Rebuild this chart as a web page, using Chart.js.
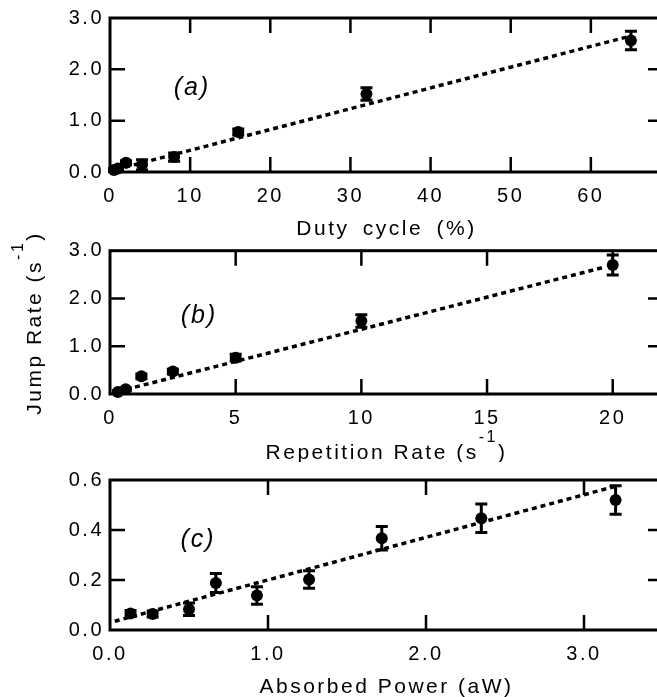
<!DOCTYPE html>
<html>
<head>
<meta charset="utf-8">
<script src="https://cdn.jsdelivr.net/npm/chart.js@4.4.1/dist/chart.umd.min.js"></script>
<style>
  html, body { margin: 0; padding: 0; background: #fff; }
  #wrap { position: relative; width: 657px; height: 697px; overflow: hidden; background: #fff; }
  #wrap canvas { position: absolute; left: 0; }
</style>
</head>
<body>
<div id="wrap">
  <canvas id="chartA" width="670" height="240" style="top:0;width:670px;height:240px"></canvas>
  <canvas id="chartB" width="670" height="230" style="top:232px;width:670px;height:230px"></canvas>
  <canvas id="chartC" width="670" height="235" style="top:462px;width:670px;height:235px"></canvas>
</div>
<script>
// (a) jump rate vs duty cycle
const dutyCycle = [0.5, 1, 2, 4, 8, 16, 32, 65];
const jumpRateA = [0.04, 0.07, 0.18, 0.14, 0.29, 0.78, 1.52, 2.56];
const errA = [0.03, 0.03, 0.04, 0.1, 0.08, 0.06, 0.12, 0.18];
const fitAx = [0.8, 64.5];
const fitAy = [0.05, 2.63];
const xTicksA = [0, 10, 20, 30, 40, 50, 60];
const yTicksA = [0, 1, 2, 3];

// (b) jump rate vs repetition rate
const repRate = [0.3125, 0.625, 1.25, 2.5, 5, 10, 20];
const jumpRateB = [0.04, 0.1, 0.37, 0.47, 0.76, 1.53, 2.7];
const errB = [0.03, 0.03, 0.05, 0.05, 0.07, 0.13, 0.21];
const fitBx = [0.3, 19.7];
const fitBy = [0.05, 2.66];
const xTicksB = [0, 5, 10, 15, 20];
const yTicksB = [0, 1, 2, 3];

// (c) jump rate vs absorbed power
const power = [0.13, 0.27, 0.5, 0.67, 0.93, 1.26, 1.72, 2.35, 3.2];
const jumpRateC = [0.066, 0.064, 0.083, 0.188, 0.138, 0.202, 0.367, 0.447, 0.52];
const errC = [0.012, 0.012, 0.025, 0.038, 0.035, 0.035, 0.047, 0.057, 0.057];
const fitCx = [0.03, 3.2];
const fitCy = [0.035, 0.575];
const xTicksC = [0, 1, 2, 3];
const yTicksC = [0, 0.2, 0.4, 0.6];

const FONT = '"Liberation Sans", Arial, Helvetica, sans-serif';
Chart.defaults.font.family = FONT;
Chart.defaults.color = '#000';

// draw text made of parts, some raised (superscript), centred on cx,cy
function drawRich(ctx, parts, cx, cy, rot) {
  ctx.save();
  ctx.translate(cx, cy);
  if (rot) ctx.rotate(rot);
  ctx.textBaseline = 'alphabetic';
  ctx.textAlign = 'left';
  let total = 0;
  parts.forEach(p => { ctx.font = p.font; total += ctx.measureText(p.text).width; });
  let x = -total / 2;
  parts.forEach(p => {
    ctx.font = p.font;
    ctx.fillText(p.text, x, 7 - (p.raise || 0));
    x += ctx.measureText(p.text).width;
  });
  ctx.restore();
}

const panelPlugin = {
  id: 'panel',
  beforeDraw(chart) {
    chart.ctx.letterSpacing = '2.5px';
  },
  beforeDatasetsDraw(chart) {
    // error bars under the markers
    const { ctx, scales: { x, y } } = chart;
    chart.data.datasets.forEach(ds => {
      if (!ds.errors) return;
      ctx.save();
      ctx.strokeStyle = '#000';
      ctx.lineWidth = 3;
      ds.data.forEach((p, i) => {
        const px = x.getPixelForValue(p.x);
        const top = y.getPixelForValue(p.y + ds.errors[i]);
        const bot = y.getPixelForValue(p.y - ds.errors[i]);
        ctx.beginPath();
        ctx.moveTo(px, top); ctx.lineTo(px, bot);
        ctx.moveTo(px - 6, top); ctx.lineTo(px + 6, top);
        ctx.moveTo(px - 6, bot); ctx.lineTo(px + 6, bot);
        ctx.stroke();
      });
      ctx.restore();
    });
  },
  afterDraw(chart, args, opts) {
    const { ctx, chartArea: a, scales: { x, y } } = chart;
    ctx.save();
    ctx.strokeStyle = '#000';
    ctx.lineWidth = 3;
    ctx.strokeRect(a.left, a.top, a.right - a.left, a.bottom - a.top);

    // inward tick marks on all four sides
    ctx.lineWidth = 2.5;
    ctx.beginPath();
    x.ticks.forEach(t => {
      if (t.value <= x.min || t.value >= x.max) return;
      const px = x.getPixelForValue(t.value);
      ctx.moveTo(px, a.top); ctx.lineTo(px, a.top + 15);
      ctx.moveTo(px, a.bottom); ctx.lineTo(px, a.bottom - 15);
    });
    y.ticks.forEach(t => {
      if (t.value <= y.min || t.value >= y.max) return;
      const py = y.getPixelForValue(t.value);
      ctx.moveTo(a.left, py); ctx.lineTo(a.left + 15, py);
      ctx.moveTo(a.right, py); ctx.lineTo(a.right - 15, py);
    });
    ctx.stroke();

    ctx.fillStyle = '#000';
    ctx.letterSpacing = '2px';
    ctx.textAlign = 'center';
    ctx.textBaseline = 'middle';
    ctx.font = 'italic 25px ' + FONT;
    ctx.fillText(opts.tag, a.left + opts.tagX, a.top + opts.tagY);

    ctx.letterSpacing = '2.5px';
    ctx.wordSpacing = opts.wordSpacing || '0px';
    drawRich(ctx, opts.xTitle, (a.left + a.right) / 2, opts.xTitleY, 0);
    ctx.wordSpacing = '0px';
    if (opts.yTitle) drawRich(ctx, opts.yTitle, opts.yTitleX, opts.yTitleY, -Math.PI / 2);
    ctx.restore();
  }
};

const MAIN = '21px ' + FONT;
const SUP = '16px ' + FONT;

function makePanel(id, cfg) {
  const H = document.getElementById(id).height;
  const pts = cfg.xs.map((v, i) => ({ x: v, y: cfg.ys[i] }));
  const fit = cfg.fitX.map((v, i) => ({ x: v, y: cfg.fitY[i] }));
  return new Chart(document.getElementById(id), {
    type: 'scatter',
    data: {
      datasets: [
        {
          data: pts,
          errors: cfg.errs,
          backgroundColor: '#000',
          borderWidth: 0,
          pointRadius: 6,
          clip: false
        },
        {
          type: 'line',
          data: fit,
          borderColor: '#000',
          borderWidth: 3.5,
          borderDash: [5, 4],
          pointRadius: 0,
          fill: false
        }
      ]
    },
    options: {
      responsive: false,
      animation: false,
      devicePixelRatio: 1,
      layout: { padding: { top: cfg.top, right: 7, left: 0, bottom: 0 } },
      plugins: {
        legend: { display: false },
        tooltip: { enabled: false },
        panel: cfg.panel
      },
      scales: {
        x: {
          type: 'linear',
          min: 0,
          max: cfg.xMax,
          grid: { display: false, drawTicks: false },
          border: { display: false },
          afterBuildTicks: s => { s.ticks = cfg.xTicks.map(v => ({ value: v })); },
          afterFit: s => { s.height = H - cfg.bottom; },
          ticks: {
            padding: 12,
            autoSkip: false,
            maxRotation: 0,
            font: { size: 20 },
            callback: v => v.toFixed(cfg.xDec)
          }
        },
        y: {
          type: 'linear',
          min: 0,
          max: cfg.yMax,
          grid: { display: false, drawTicks: false },
          border: { display: false },
          afterBuildTicks: s => { s.ticks = cfg.yTicks.map(v => ({ value: v })); },
          afterFit: s => { s.width = 110; },
          ticks: {
            padding: 6,
            autoSkip: false,
            font: { size: 20 },
            callback: v => v.toFixed(1)
          }
        }
      }
    },
    plugins: [panelPlugin]
  });
}

makePanel('chartA', {
  xs: dutyCycle, ys: jumpRateA, errs: errA, fitX: fitAx, fitY: fitAy,
  xTicks: xTicksA, yTicks: yTicksA, xMax: 69, yMax: 3, xDec: 0,
  top: 17.5, bottom: 172,
  panel: {
    tag: '(a)', tagX: 82, tagY: 70,
    xTitle: [{ text: 'Duty cycle (%)', font: MAIN }], xTitleY: 228,
    wordSpacing: '5px'
  }
});

makePanel('chartB', {
  xs: repRate, ys: jumpRateB, errs: errB, fitX: fitBx, fitY: fitBy,
  xTicks: xTicksB, yTicks: yTicksB, xMax: 22, yMax: 3, xDec: 0,
  top: 18.7, bottom: 162,
  panel: {
    tag: '(b)', tagX: 89, tagY: 65,
    xTitle: [
      { text: 'Repetition Rate (s', font: MAIN },
      { text: '-1', font: SUP, raise: 17 },
      { text: ')', font: MAIN }
    ],
    xTitleY: 220,
    yTitle: [
      { text: 'Jump Rate (s', font: MAIN },
      { text: '-1', font: SUP, raise: 18 },
      { text: ')', font: MAIN }
    ],
    yTitleX: 34, yTitleY: 91
  }
});

makePanel('chartC', {
  xs: power, ys: jumpRateC, errs: errC, fitX: fitCx, fitY: fitCy,
  xTicks: xTicksC, yTicks: yTicksC, xMax: 3.5, yMax: 0.6, xDec: 1,
  top: 11.3, bottom: 168,
  panel: {
    tag: '(c)', tagX: 88, tagY: 60,
    xTitle: [{ text: 'Absorbed Power (aW)', font: MAIN }], xTitleY: 224
  }
});
</script>
</body>
</html>
